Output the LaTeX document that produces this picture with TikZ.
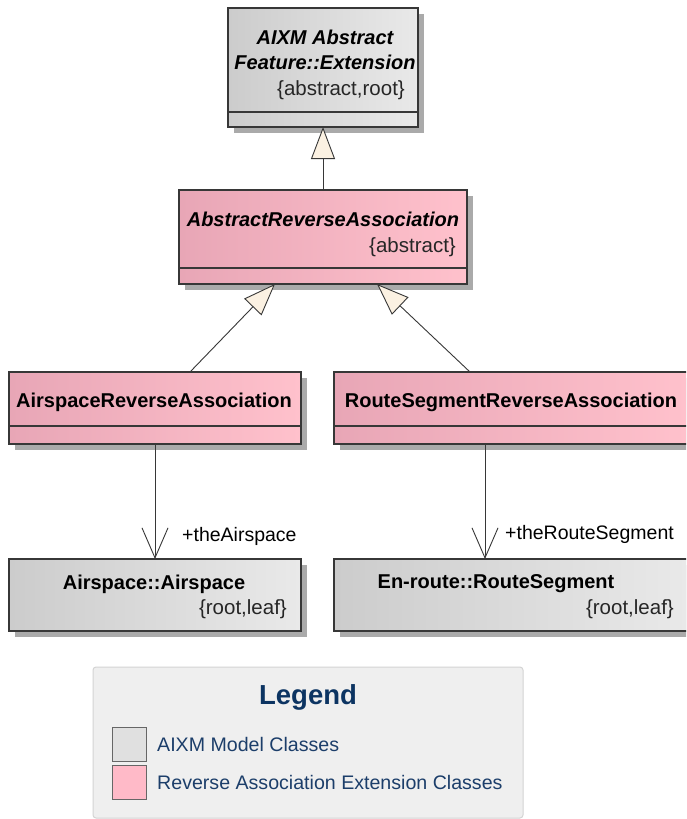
\documentclass[tikz,border=0pt]{standalone}
\usepackage{fontspec}
\setmainfont{Liberation Sans}
\usetikzlibrary{arrows.meta,shadows,calc}

\definecolor{classgrayL}{RGB}{204,204,204}
\definecolor{classgrayR}{RGB}{233,233,233}
\definecolor{classpinkL}{RGB}{232,166,182}
\definecolor{classpinkR}{RGB}{255,193,204}
\definecolor{classline}{RGB}{55,55,55}
\definecolor{shadowgray}{RGB}{170,170,170}
\definecolor{trifill}{RGB}{251,241,226}
\definecolor{legendbg}{RGB}{239,239,239}
\definecolor{legendframe}{RGB}{212,212,212}
\definecolor{legendtitle}{RGB}{12,52,98}
\definecolor{legendtext}{RGB}{28,62,106}
\definecolor{swatchgray}{RGB}{224,224,224}
\definecolor{swatchpink}{RGB}{255,186,200}

\tikzset{
  classbox/.style={draw=classline, line width=1.1pt, inner sep=0pt, outer sep=0pt,
    general shadow={fill=shadowgray, shadow xshift=6pt, shadow yshift=-6pt}},
  aixmclass/.style={classbox, left color=classgrayL, right color=classgrayR},
  extclass/.style={classbox, left color=classpinkL, right color=classpinkR},
  sepline/.style={draw=classline, line width=1.1pt},
  classname/.style={inner sep=0pt, font=\fontsize{20}{25}\selectfont\bfseries, text=black},
  abstractname/.style={classname, font=\fontsize{20}{25}\selectfont\bfseries\itshape, align=center},
  tagtext/.style={inner sep=0pt, font=\fontsize{20.5}{24}\selectfont, text=black!85},
  rolelabel/.style={inner sep=0pt, font=\fontsize{19.5}{22}\selectfont, text=black},
  generalize/.style={draw=classline, line width=0.9pt,
    -{Triangle[length=32pt, width=24pt, fill=trifill, line width=0.9pt]}},
  navigate/.style={draw=classline, line width=0.9pt,
    -{Straight Barb[length=30pt, width=26pt, line width=0.9pt]}},
  swatch/.style={draw=black!60, line width=1pt, minimum width=34pt, minimum height=34pt, inner sep=0pt},
  legendentry/.style={inner sep=0pt, anchor=west, font=\fontsize{19.6}{22}\selectfont, text=legendtext},
}

\begin{document}
\begin{tikzpicture}[x=1pt, y=-1pt]
  \useasboundingbox (0,0) rectangle (686,819);
  \clip (0,0) rectangle (686,819);
  \fill[white] (0,0) rectangle (686,819);

  % class boxes
  \node[aixmclass, minimum width=190pt, minimum height=119pt] (top) at (323,67.5) {};
  \node[extclass, minimum width=288pt, minimum height=94pt] (absra) at (323,237) {};
  \node[extclass, minimum width=292pt, minimum height=72pt] (arsa) at (155,408) {};
  \node[extclass, minimum width=354pt, minimum height=72pt] (rsra) at (511,408) {};
  \node[aixmclass, minimum width=292pt, minimum height=72pt] (air) at (155,595) {};
  \node[aixmclass, minimum width=354pt, minimum height=72pt] (rs) at (511,595) {};

  % attribute compartments
  \draw[sepline] ($(top.south west)+(0,-15)$) -- ($(top.south east)+(0,-15)$);
  \draw[sepline] ($(absra.south west)+(0,-16)$) -- ($(absra.south east)+(0,-16)$);
  \draw[sepline] ($(arsa.south west)+(0,-18)$) -- ($(arsa.south east)+(0,-18)$);
  \draw[sepline] ($(rsra.south west)+(0,-18)$) -- ($(rsra.south east)+(0,-18)$);

  % class names and tagged values
  \node[abstractname] (topname) at (325,50) {AIXM Abstract\\Feature::Extension};
  \node[tagtext, anchor=east] (toptag) at (405,90) {\{abstract,root\}};
  \node[abstractname] (absname) at (323,219) {AbstractReverseAssociation};
  \node[tagtext, anchor=east] (abstag) at (456,247) {\{abstract\}};
  \node[classname] (arsaname) at (154,402) {AirspaceReverseAssociation};
  \node[classname] (rsraname) at (511,402) {RouteSegmentReverseAssociation};
  \node[classname] (airname) at (154,584) {Airspace::Airspace};
  \node[tagtext, anchor=east] (airtag) at (287,609) {\{root,leaf\}};
  \node[classname] (rsname) at (496,584) {En-route::RouteSegment};
  \node[tagtext, anchor=east] (rstag) at (674,609) {\{root,leaf\}};

  % generalizations
  \draw[generalize] (absra.north) -- (top.south);
  \draw[generalize] ([xshift=35pt]arsa.north) -- ([xshift=-48pt]absra.south);
  \draw[generalize] ([xshift=-41pt]rsra.north) -- ([xshift=54pt]absra.south);

  % navigable associations
  \draw[navigate] (arsa.south) -- (air.north);
  \draw[navigate] ([xshift=-26pt]rsra.south) -- ([xshift=-26pt]rs.north);
  \node[rolelabel, anchor=west] (airrole) at (182,536) {+theAirspace};
  \node[rolelabel, anchor=west] (rsrole) at (505,534) {+theRouteSegment};

  % legend
  \node[draw=legendframe, fill=legendbg, line width=1pt, rounded corners=3pt,
        minimum width=430pt, minimum height=151pt] (legend) at (308,742.5) {};
  \node[inner sep=0pt, font=\fontsize{27.5}{30}\selectfont\bfseries, text=legendtitle]
        (legendtitle) at (308,697) {Legend};
  \node[swatch, fill=swatchgray] (swgray) at (129.5,744.5) {};
  \node[swatch, fill=swatchpink] (swpink) at (129.5,782.5) {};
  \node[legendentry] (lgray) at (157,744) {AIXM Model Classes};
  \node[legendentry] (lpink) at (157,782) {Reverse Association Extension Classes};
\end{tikzpicture}
\end{document}
